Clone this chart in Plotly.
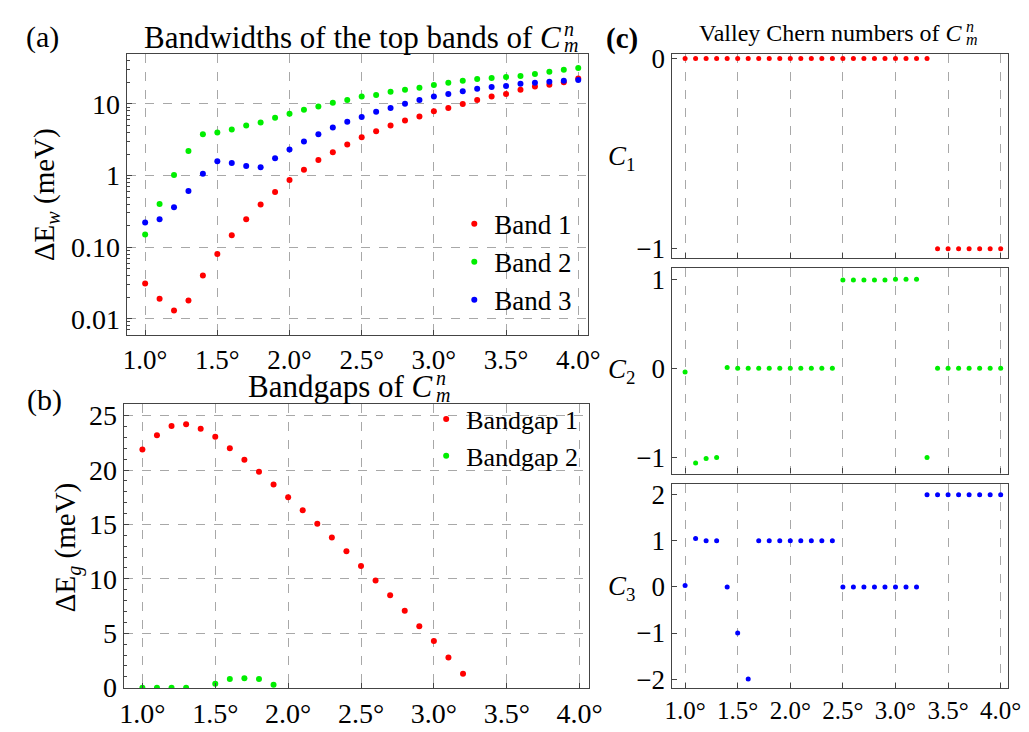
import plotly.graph_objects as go

W, H = 1029, 732
FONT = "'Liberation Serif', 'DejaVu Serif', serif"

# ---------------- data ----------------
theta = [1.0, 1.1, 1.2, 1.3, 1.4, 1.5, 1.6, 1.7, 1.8, 1.9, 2.0, 2.1, 2.2, 2.3, 2.4, 2.5,
         2.6, 2.7, 2.8, 2.9, 3.0, 3.1, 3.2, 3.3, 3.4, 3.5, 3.6, 3.7, 3.8, 3.9, 4.0]

band1_w = [0.031, 0.019, 0.013, 0.018, 0.040, 0.080, 0.146, 0.245, 0.395, 0.59, 0.87, 1.21,
           1.65, 2.11, 2.71, 3.44, 4.15, 5.0, 5.9, 6.7, 7.9, 8.8, 10.0, 11.4, 12.7, 13.8,
           15.8, 17.5, 18.6, 20.2, 22.7]
band2_w = [0.15, 0.40, 1.02, 2.2, 3.78, 4.0, 4.4, 5.0, 5.5, 6.4, 7.3, 8.3, 9.2, 10.4, 11.4,
           12.7, 13.4, 14.8, 15.8, 16.8, 18.4, 19.8, 21.1, 22.4, 23.1, 23.9, 24.6, 26.2,
           28.2, 30.0, 31.9]
band3_w = [0.22, 0.245, 0.36, 0.61, 1.06, 1.58, 1.50, 1.36, 1.31, 1.75, 2.32, 3.0, 3.78,
           4.7, 5.66, 6.6, 7.8, 8.8, 10.1, 11.4, 12.7, 13.8, 15.1, 16.3, 17.3, 17.9, 19.2,
           19.8, 20.4, 21.1, 21.7]

gap1_theta = [1.0, 1.1, 1.2, 1.3, 1.4, 1.5, 1.6, 1.7, 1.8, 1.9, 2.0, 2.1, 2.2, 2.3, 2.4,
              2.5, 2.6, 2.7, 2.8, 2.9, 3.0, 3.1, 3.2]
gap1 = [21.9, 23.2, 24.05, 24.2, 23.8, 23.05, 22.0, 20.95, 19.85, 18.67, 17.5, 16.3, 15.06,
        13.8, 12.54, 11.18, 9.85, 8.49, 7.07, 5.65, 4.29, 2.78, 1.27]
gap2_theta = [1.0, 1.1, 1.2, 1.3, 1.5, 1.6, 1.7, 1.8, 1.9]
gap2 = [0.0, 0.0, 0.0, 0.0, 0.36, 0.80, 0.86, 0.80, 0.27]

chern1 = [0, 0, 0, 0, 0, 0, 0, 0, 0, 0, 0, 0, 0, 0, 0, 0, 0, 0, 0, 0, 0, 0, 0, 0,
          -1, -1, -1, -1, -1, -1, -1]
chern2 = [-0.04, -1.06, -1.01, -1.0, 0.01, 0, 0, 0, 0, 0, 0, 0, 0, 0, 0,
          0.99, 0.99, 0.99, 0.99, 0.99, 1.0, 1.0, 1.0, -1.0, 0, 0, 0, 0, 0, 0, 0]
chern3 = [0.03, 1.05, 1.0, 1.0, 0.0, -1.0, -2.0, 1.0, 1.0, 1.0, 1.0, 1.0, 1.0, 1.0, 1.0,
          0, 0, 0, 0, 0, 0, 0, 0, 2, 2, 2, 2, 2, 2, 2, 2]

x_ticks = [1.0, 1.5, 2.0, 2.5, 3.0, 3.5, 4.0]
x_ticktext = ["1.0°", "1.5°", "2.0°", "2.5°", "3.0°", "3.5°", "4.0°"]
wa_ticks = [0.01, 0.1, 1, 10]
wa_ticktext = ["0.01", "0.10", "1", "10"]
gb_ticks = [0, 5, 10, 15, 20, 25]

RED, GREEN, BLUE = "#ff0000", "#00ee00", "#0000ff"

# ---------------- layout helpers ----------------
def fx(x):
    return x / W

def fy(y):
    return 1 - y / H

AX_LINE = "#444444"
GRID = "#a8a8a8"

log_minor = [m * 10.0 ** e for e in range(-3, 2) for m in range(2, 10)]

def base_axis(**kw):
    d = dict(showline=True, linecolor=AX_LINE, linewidth=1.3, mirror=True,
             ticks="inside", ticklen=5, tickcolor=AX_LINE, tickwidth=1,
             showgrid=True, gridcolor=GRID, griddash="dash", gridwidth=1,
             zeroline=False, tickfont=dict(family=FONT, size=28, color="black"))
    d.update(kw)
    return d

fig = go.Figure()

# panel (a)
fig.add_trace(go.Scatter(x=theta, y=band1_w, mode="markers", name="Band 1",
                         marker=dict(color=RED, size=6), xaxis="x", yaxis="y", legend="legend"))
fig.add_trace(go.Scatter(x=theta, y=band2_w, mode="markers", name="Band 2",
                         marker=dict(color=GREEN, size=6), xaxis="x", yaxis="y", legend="legend"))
fig.add_trace(go.Scatter(x=theta, y=band3_w, mode="markers", name="Band 3",
                         marker=dict(color=BLUE, size=6), xaxis="x", yaxis="y", legend="legend"))
# panel (b)
fig.add_trace(go.Scatter(x=gap1_theta, y=gap1, mode="markers", name="Bandgap 1",
                         marker=dict(color=RED, size=6), xaxis="x2", yaxis="y2", legend="legend2"))
fig.add_trace(go.Scatter(x=gap2_theta, y=gap2, mode="markers", name="Bandgap 2",
                         marker=dict(color=GREEN, size=6), xaxis="x2", yaxis="y2", legend="legend2"))
# panel (c)
fig.add_trace(go.Scatter(x=theta, y=chern1, mode="markers", showlegend=False,
                         marker=dict(color=RED, size=5), xaxis="x3", yaxis="y3"))
fig.add_trace(go.Scatter(x=theta, y=chern2, mode="markers", showlegend=False,
                         marker=dict(color=GREEN, size=5), xaxis="x4", yaxis="y4"))
fig.add_trace(go.Scatter(x=theta, y=chern3, mode="markers", showlegend=False,
                         marker=dict(color=BLUE, size=5), xaxis="x5", yaxis="y5"))

XR = [0.872, 4.066]

layout = dict(
    width=W, height=H, autosize=False,
    margin=dict(l=0, r=0, t=0, b=0),
    paper_bgcolor="white", plot_bgcolor="white",
    font=dict(family=FONT, color="black"),
    xaxis=base_axis(domain=[fx(114.0), fx(584.7)], range=XR, anchor="y",
                    tickvals=x_ticks, ticktext=x_ticktext,
                    tickfont=dict(family=FONT, size=27, color="black")),
    yaxis=base_axis(domain=[fy(328.3), fy(37.3)], range=[-2.229, 1.698], type="log",
                    anchor="x", tickvals=wa_ticks, ticktext=wa_ticktext,
                    minor=dict(ticks="inside", ticklen=3, tickcolor=AX_LINE, showgrid=False,
                               tickvals=log_minor)),
    xaxis2=base_axis(domain=[fx(111.0), fx(586.2)], range=XR, anchor="y2",
                     tickvals=x_ticks, ticktext=x_ticktext),
    yaxis2=base_axis(domain=[fy(694), fy(400)], range=[-0.06, 26.04], anchor="x2",
                     tickvals=gb_ticks,
                     minor=dict(ticks="inside", ticklen=3, dtick=1, tickcolor=AX_LINE,
                                showgrid=False)),
    xaxis3=base_axis(domain=[fx(670.3), fx(1013.3)], range=XR, anchor="y3",
                     tickvals=x_ticks, showticklabels=False),
    yaxis3=base_axis(domain=[fy(248.7), fy(37.3)], range=[-1.05, 0.024], anchor="x3",
                     tickvals=[0, -1], showgrid=False,
                     tickfont=dict(family=FONT, size=27, color="black")),
    xaxis4=base_axis(domain=[fx(670.3), fx(1013.3)], range=XR, anchor="y4",
                     tickvals=x_ticks, showticklabels=False),
    yaxis4=base_axis(domain=[fy(471.7), fy(259.3)], range=[-1.18, 1.12], anchor="x4",
                     tickvals=[1, 0, -1], showgrid=False,
                     tickfont=dict(family=FONT, size=27, color="black")),
    xaxis5=base_axis(domain=[fx(670.3), fx(1013.3)], range=XR, anchor="y5",
                     tickvals=x_ticks, ticktext=x_ticktext,
                     tickfont=dict(family=FONT, size=25, color="black")),
    yaxis5=base_axis(domain=[fy(694), fy(482.7)], range=[-2.2, 2.23], anchor="x5",
                     tickvals=[2, 1, 0, -1, -2], showgrid=False,
                     tickfont=dict(family=FONT, size=27, color="black")),
    legend=dict(x=fx(574), xanchor="right", y=fy(188), yanchor="top",
                bgcolor="rgba(0,0,0,0)", font=dict(family=FONT, size=27, color="black"),
                itemwidth=30),
    legend2=dict(x=fx(580), xanchor="right", y=fy(391), yanchor="top",
                 bgcolor="rgba(0,0,0,0)", font=dict(family=FONT, size=26, color="black"),
                 itemwidth=30),
    showlegend=True,
)
fig.update_layout(**layout)

def ann(text, x, y, size, xanchor="center", yanchor="middle", angle=0):
    fig.add_annotation(text=text, x=fx(x), y=fy(y), xref="paper", yref="paper",
                       showarrow=False, xanchor=xanchor, yanchor=yanchor, textangle=angle,
                       font=dict(family=FONT, size=size, color="black"))

# panel labels
ann("(a)", 28, 20, 30)
ann("(b)", 30, 396, 30)
ann("<b>(c)</b>", 620, 21, 29)

# titles with stacked sub/superscript
ann("Bandwidths of the top bands of <i>C</i>", 559, 20, 31, xanchor="right")
ann("<i>n</i>", 558, 11, 20, xanchor="left")
ann("<i>m</i>", 558, 28, 20, xanchor="left")

ann("Bandgaps of <i>C</i>", 429, 382, 31, xanchor="right")
ann("<i>n</i>", 428, 373, 20, xanchor="left")
ann("<i>m</i>", 428, 390, 20, xanchor="left")

ann("Valley Chern numbers of <i>C</i>", 970, 16, 24, xanchor="right")
ann("<i>n</i>", 969, 9, 16, xanchor="left")
ann("<i>m</i>", 969, 22, 16, xanchor="left")

# axis titles
ann("ΔE<sub><i>w</i></sub> (meV)", 31, 183, 29, angle=-90)
ann("ΔE<sub><i>g</i></sub> (meV)", 53, 548, 29, angle=-90)
ann("<i>C</i><sub>1</sub>", 619, 145, 27)
ann("<i>C</i><sub>2</sub>", 619, 365, 27)
ann("<i>C</i><sub>3</sub>", 619, 590, 27)

fig.write_html("out.html")
